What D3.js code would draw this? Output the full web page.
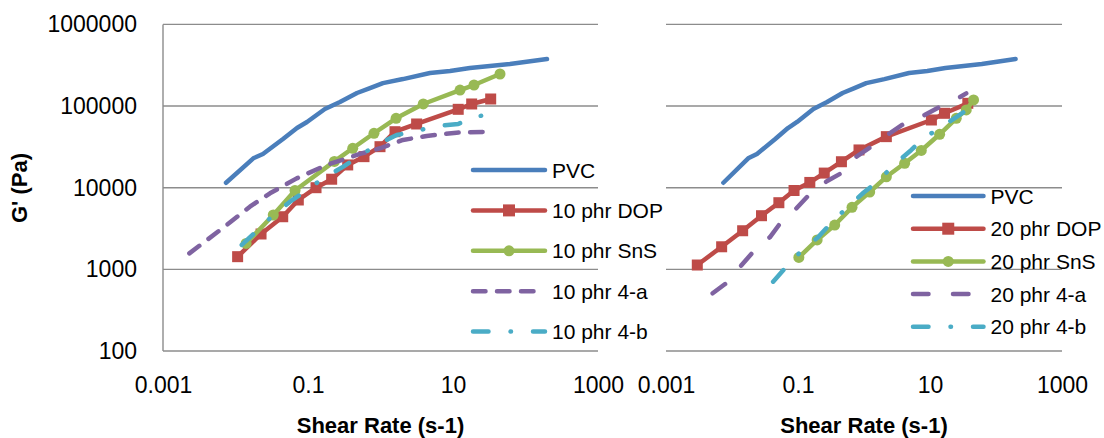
<!DOCTYPE html>
<html>
<head>
<meta charset="utf-8">
<script src="https://cdn.jsdelivr.net/npm/d3@7"></script>
<style>
  html, body { margin: 0; padding: 0; background: #fff; }
  svg { display: block; }
  text { font-family: "Liberation Sans", Arial, sans-serif; fill: #000; }
</style>
</head>
<body>
<svg id="chart" width="1104" height="438"></svg>
<script>
// ---------------- DATA ----------------
const yTicks = [100, 1000, 10000, 100000, 1000000];
const xTicks = [0.001, 0.1, 10, 1000];
const xTitle = "Shear Rate (s-1)";
const yTitle = "G' (Pa)";

// PVC (same in both panels)
const pvcX = [0.0074, 0.0176, 0.0239, 0.0452, 0.0705, 0.0969, 0.171, 0.276, 0.474, 0.716, 1.08, 2.04, 4.81, 9.1, 17.1, 61, 198];
const pvcY = [11500, 22900, 25900, 39500, 53800, 63800, 92000, 112000, 144500, 166000, 191000, 214000, 254000, 269000, 292000, 327000, 377000];

// Left panel: 10 phr
const dop10X = [0.0107, 0.0225, 0.0448, 0.0735, 0.129, 0.212, 0.353, 0.592, 0.984, 1.585, 3.15, 11.8, 18.1, 33.1];
const dop10Y = [1430, 2710, 4410, 7070, 10000, 12700, 19000, 24000, 31800, 48500, 60300, 91200, 106000, 122000];
const sns10X = [0.0140, 0.0332, 0.0662, 0.231, 0.414, 0.813, 1.64, 3.89, 12.5, 19.5, 44.5];
const sns10Y = [2080, 4630, 9240, 21000, 30400, 46400, 70800, 106000, 157000, 181000, 247000];
const a10X = [0.00231, 0.00756, 0.0158, 0.0299, 0.0698, 0.181, 0.521, 0.984, 2.04, 4.34, 11.2, 34.2];
const a10Y = [1570, 3490, 5850, 8540, 13000, 19000, 25900, 30400, 38400, 43000, 47200, 48500];
const b10X = [0.0122, 0.0315, 0.0565, 0.0861, 0.155, 0.307, 0.494, 0.887, 1.67, 2.83, 5.96, 11.8, 20.1, 42.2];
const b10Y = [1990, 4410, 6740, 8690, 12700, 18100, 24000, 33300, 44200, 48500, 57000, 60300, 74100, 81500];

// Right panel: 20 phr
const dop20X = [0.00298, 0.00697, 0.0145, 0.0280, 0.0513, 0.0871, 0.151, 0.250, 0.455, 0.840, 2.18, 10.5, 16.6, 37.4];
const dop20Y = [1130, 1890, 2970, 4540, 6550, 9240, 11600, 15100, 20800, 29000, 42200, 67500, 81500, 108000];
const sns20X = [0.103, 0.195, 0.360, 0.658, 1.22, 2.18, 4.13, 7.38, 14.0, 25.0, 35.4, 45.7];
const sns20Y = [1400, 2290, 3490, 5750, 8860, 13600, 19900, 28600, 45100, 70800, 89500, 119000];
const a20X = [0.00509, 0.00877, 0.0140, 0.0222, 0.0374, 0.0574, 0.0948, 0.151, 0.277, 0.455, 0.767, 1.29, 2.45, 4.13, 8.28, 14.8, 28.1, 35.4];
const a20Y = [509, 706, 1130, 1730, 2470, 3940, 5600, 8370, 12100, 15100, 24000, 31800, 46400, 61500, 77700, 100000, 128000, 143000];
const b20X = [0.0420, 0.0670, 0.110, 0.201, 0.321, 0.542, 0.99, 1.58, 2.81, 5.21, 8.0, 15.7, 31.5, 47.3];
const b20Y = [706, 1080, 1650, 2470, 3730, 5600, 8730, 11800, 18800, 29000, 40300, 57000, 83000, 106000];

const leftNames = ["PVC", "10 phr DOP", "10 phr SnS", "10 phr 4-a", "10 phr 4-b"];
const rightNames = ["PVC", "20 phr DOP", "20 phr SnS", "20 phr 4-a", "20 phr 4-b"];

// ---------------- STYLE ----------------
const COLORS = ["#4a7ebb", "#be4b48", "#98b954", "#7f63a1", "#4aacc6"];
const LW = 4.5;
const GRID = "#8c8c8c";

const svg = d3.select("#chart");

function zip(xs, ys) { return xs.map((x, i) => ({x: x, y: ys[i]})); }

function panel(opts) {
  const x = d3.scaleLog().domain([0.001, 1000]).range([opts.x0, opts.x1]);
  const y = d3.scaleLog().domain([100, 1000000]).range([351, 24.4]);
  const g = svg.append("g");

  // gridlines
  g.selectAll("line.grid").data(yTicks).enter().append("line")
    .attr("x1", opts.x0).attr("x2", opts.x1)
    .attr("y1", d => y(d)).attr("y2", d => y(d))
    .attr("stroke", GRID).attr("stroke-width", 1.4);

  if (opts.showY) {
    g.append("line").attr("x1", opts.x0).attr("x2", opts.x0)
      .attr("y1", y(1000000)).attr("y2", y(100))
      .attr("stroke", GRID).attr("stroke-width", 1.4);
    const ya = g.append("g").attr("transform", `translate(${opts.x0},0)`)
      .call(d3.axisLeft(y).tickValues(yTicks).tickSize(0).tickPadding(26).tickFormat(d3.format("d")));
    ya.select(".domain").remove();
    ya.selectAll("text").style("font-size", "23px").style("font-family", "Liberation Sans, Arial, sans-serif").attr("fill", "#000");
  }

  const xa = g.append("g").attr("transform", `translate(0,351)`)
    .call(d3.axisBottom(x).tickValues(xTicks).tickSize(0).tickPadding(26).tickFormat(d3.format("~g")));
  xa.select(".domain").remove();
  xa.selectAll("text").style("font-size", "23px").style("font-family", "Liberation Sans, Arial, sans-serif").attr("fill", "#000");

  // x title
  g.append("text").attr("x", (opts.x0 + opts.x1) / 2).attr("y", 433)
    .attr("text-anchor", "middle").style("font-size", "22px").style("font-weight", "bold")
    .text(xTitle);

  const line = d3.line().x(d => x(d.x)).y(d => y(d.y));

  opts.series.forEach((s, i) => {
    g.append("path").datum(s.data)
      .attr("d", line).attr("fill", "none")
      .attr("stroke", COLORS[i]).attr("stroke-width", LW)
      .attr("stroke-linecap", "round").attr("stroke-linejoin", "round")
      .attr("stroke-dasharray", s.dash || null);
    if (s.marker === "square") {
      g.selectAll(null).data(s.data).enter().append("rect")
        .attr("x", d => x(d.x) - 5.5).attr("y", d => y(d.y) - 5.5)
        .attr("width", 11).attr("height", 11).attr("fill", COLORS[i]);
    } else if (s.marker === "circle") {
      g.selectAll(null).data(s.data).enter().append("circle")
        .attr("cx", d => x(d.x)).attr("cy", d => y(d.y)).attr("r", 5.5)
        .attr("fill", COLORS[i]);
    }
  });

  // legend
  const lg = g.append("g");
  opts.series.forEach((s, i) => {
    const ly = opts.legY[i];
    lg.append("line").attr("x1", opts.legX0).attr("x2", opts.legX1)
      .attr("y1", ly).attr("y2", ly)
      .attr("stroke", COLORS[i]).attr("stroke-width", LW)
      .attr("stroke-linecap", "round")
      .attr("stroke-dasharray", s.dash || null);
    const mx = (opts.legX0 + opts.legX1) / 2;
    if (s.marker === "square") {
      lg.append("rect").attr("x", mx - 6).attr("y", ly - 6).attr("width", 12).attr("height", 12).attr("fill", COLORS[i]);
    } else if (s.marker === "circle") {
      lg.append("circle").attr("cx", mx).attr("cy", ly).attr("r", 5.5).attr("fill", COLORS[i]);
    }
    lg.append("text").attr("x", opts.legX1 + 7).attr("y", ly).attr("dy", "0.36em")
      .style("font-size", "21px").text(opts.names[i]);
  });
}

panel({
  x0: 163, x1: 598, showY: true,
  names: leftNames,
  legX0: 473, legX1: 545, legY: [170, 210.4, 250.8, 291.2, 331.6],
  series: [
    {data: zip(pvcX, pvcY)},
    {data: zip(dop10X, dop10Y), marker: "square"},
    {data: zip(sns10X, sns10Y), marker: "circle"},
    {data: zip(a10X, a10Y), dash: "12.5,11.5"},
    {data: zip(b10X, b10Y), dash: "15.5,22,0.5,22"}
  ]
});

panel({
  x0: 666, x1: 1062, showY: false,
  names: rightNames,
  legX0: 913, legX1: 983.5, legY: [196, 228.7, 261.4, 294.1, 326.8],
  series: [
    {data: zip(pvcX, pvcY)},
    {data: zip(dop20X, dop20Y), marker: "square"},
    {data: zip(sns20X, sns20Y), marker: "circle"},
    {data: zip(a20X, a20Y), dash: "15.5,24.5"},
    {data: zip(b20X, b20Y), dash: "15.5,22,0.5,22"}
  ]
});

// y title
svg.append("text").attr("transform", "translate(27,188) rotate(-90)")
  .attr("text-anchor", "middle").style("font-size", "22px").style("font-weight", "bold")
  .text(yTitle);
</script>
</body>
</html>
